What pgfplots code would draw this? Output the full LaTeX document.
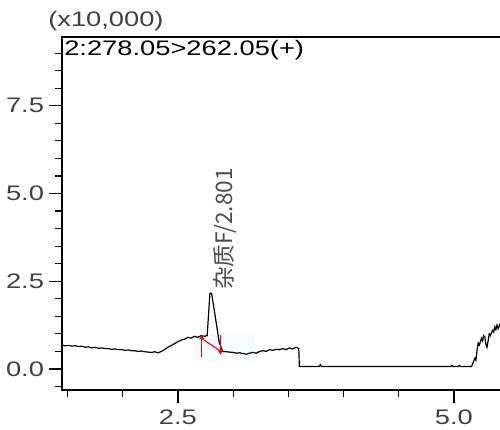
\documentclass[border=0pt]{standalone}
\usepackage{fontspec}
\setmainfont{Liberation Sans}[FakeStretch=1.3]
\newfontfamily\cjk{Noto Sans CJK SC}
\usepackage{pgfplots}
\pgfplotsset{compat=1.18}
\begin{document}
\begin{tikzpicture}
\begin{axis}[
    at={(0,0)}, anchor=south west,
    scale only axis, width=343.6pt, height=264.75pt,
    xmin=1.45, xmax=5.6, ymin=-0.6, ymax=9.46,
    xtick={2.5,5.0}, minor xtick={1.5,2,3,3.5,4,4.5},
    ytick={0,2.5,5,7.5},
    minor ytick={-0.5,0.5,1,1.5,2,3,3.5,4,4.5,5.5,6,6.5,7,8,8.5,9},
    xtick pos=bottom, ytick pos=left, tick align=outside,
    major tick length=10pt, minor tick length=5pt,
    major tick style={black, line width=1pt},
    minor tick style={black, line width=0.9pt},
    axis line style={line width=1.2pt},
    /pgf/number format/.cd, fixed, fixed zerofill, precision=1, assume math mode=true, /pgfplots/.cd,
    tick label style={font=\fontsize{15.75}{18}\selectfont, text=black!75},
    xticklabel style={yshift=-1pt},
    clip=true,
]
% faint integration area
\fill[cyan!4] (axis cs:2.65,0.2) rectangle (axis cs:3.2,1.0);

\addplot[black, line width=0.9pt] coordinates {
(1.45,0.68) (1.48,0.66) (1.51,0.67) (1.54,0.65) (1.57,0.66) (1.60,0.64) (1.63,0.65)
(1.66,0.62) (1.69,0.63) (1.72,0.60) (1.75,0.62) (1.78,0.59) (1.81,0.60) (1.84,0.58)
(1.87,0.58) (1.90,0.56) (1.93,0.57) (1.96,0.55) (1.99,0.55) (2.02,0.53) (2.05,0.54)
(2.08,0.52) (2.11,0.52) (2.14,0.50) (2.17,0.51) (2.20,0.49) (2.23,0.48) (2.26,0.47)
(2.29,0.49) (2.32,0.46) (2.35,0.50) (2.38,0.55) (2.41,0.62) (2.44,0.67) (2.47,0.72)
(2.50,0.78) (2.53,0.82) (2.56,0.85) (2.59,0.90) (2.62,0.88) (2.65,0.93) (2.68,0.90)
(2.71,0.95) (2.74,0.93) (2.765,0.95) (2.79,2.16) (2.805,2.16) (2.875,0.75) (2.905,0.50)
(2.94,0.49) (2.97,0.48) (3.00,0.47) (3.03,0.45) (3.06,0.46) (3.09,0.44) (3.12,0.42)
(3.15,0.45) (3.18,0.47) (3.21,0.45) (3.24,0.50) (3.27,0.52) (3.30,0.50) (3.33,0.55)
(3.36,0.53) (3.39,0.56) (3.42,0.55) (3.45,0.58) (3.48,0.55) (3.51,0.60) (3.54,0.57)
(3.57,0.62) (3.595,0.58) (3.60,0.07) (3.78,0.07) (3.79,0.12) (3.80,0.07) (4.97,0.07)
(4.98,0.10) (4.99,0.07) (5.04,0.07) (5.05,0.10) (5.06,0.07) (5.16,0.07) (5.17,0.15)
(5.19,0.31) (5.20,0.25) (5.21,0.55) (5.22,0.74) (5.23,0.68) (5.25,0.88) (5.26,0.80)
(5.27,0.95) (5.28,0.92) (5.29,0.70) (5.30,0.62) (5.31,0.80) (5.32,1.00) (5.33,0.95)
(5.35,1.10) (5.36,1.05) (5.37,1.20) (5.38,1.12) (5.39,1.25) (5.40,1.15) (5.42,1.30)
(5.45,1.35)
};

% integration baseline and markers
\addplot[red, line width=0.8pt] coordinates {(2.715,0.87) (2.895,0.49)};
\addplot[red, line width=0.7pt, -stealth] coordinates {(2.715,0.35) (2.715,0.98)};
\addplot[red, line width=0.7pt, -stealth] coordinates {(2.885,0.98) (2.885,0.40)};

\node[anchor=base west, inner sep=0pt, font=\fontsize{15.75}{18}\selectfont]
    at ([xshift=1.5pt,yshift=-13.5pt]rel axis cs:0,1) {2:278.05>262.05(+)};
\node[rotate=90, anchor=west, inner sep=0pt, text=black!70, font=\cjk\fontsize{17}{20}\selectfont]
    at (axis cs:2.93,2.25) {杂质F/2.801};
\end{axis}
\node[anchor=base west, inner sep=0pt, text=black!75, font=\fontsize{15.75}{18}\selectfont]
    at (-10.5pt,272.25pt) {(x10,000)};
\pgfresetboundingbox
\useasboundingbox (-46.5pt,-29.25pt) rectangle (328.5pt,292.5pt);
\end{tikzpicture}
\end{document}
